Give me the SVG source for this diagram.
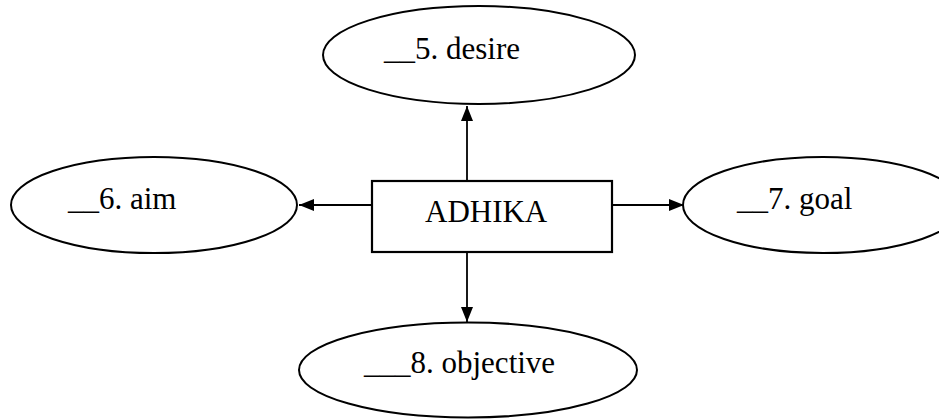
<svg xmlns="http://www.w3.org/2000/svg" width="939" height="419" viewBox="0 0 939 419">
<defs>
<style>
.shape{fill:#fff;stroke:#000;stroke-width:2}
.box{fill:#fff;stroke:#000;stroke-width:2.2}
.lbl{font-family:"Liberation Serif","Times New Roman",serif;font-size:31px;fill:#000}
.conn{stroke:#000;stroke-width:1.8;fill:none;marker-end:url(#arr)}
</style>
<marker id="arr" markerUnits="userSpaceOnUse" markerWidth="16" markerHeight="14" viewBox="0 0 16 14" refX="15" refY="7" orient="auto">
<path d="M0,1 L15,7 L0,13 Z" fill="#000"/>
</marker>
</defs>
<rect width="939" height="419" fill="#fff"/>
<g id="connectors">
<line class="conn" x1="467" y1="181" x2="467" y2="106"/>
<line class="conn" x1="372" y1="205" x2="299" y2="205"/>
<line class="conn" x1="612" y1="205" x2="684" y2="205"/>
<line class="conn" x1="467" y1="252" x2="467" y2="322"/>
</g>
<g id="center">
<rect class="box" x="372" y="181" width="240" height="71"/>
<text class="lbl" x="425" y="222">ADHIKA</text>
</g>
<g id="n5">
<ellipse class="shape" cx="479" cy="55" rx="156" ry="49"/>
<text class="lbl" x="384" y="59">__5. desire</text>
</g>
<g id="n6">
<ellipse class="shape" cx="154" cy="205" rx="143" ry="48"/>
<text class="lbl" x="68" y="209">__6. aim</text>
</g>
<g id="n7">
<ellipse class="shape" cx="823" cy="205" rx="140" ry="48"/>
<text class="lbl" x="737" y="209">__7. goal</text>
</g>
<g id="n8">
<ellipse class="shape" cx="468" cy="370" rx="169" ry="47.5"/>
<text class="lbl" x="364" y="373">___8. objective</text>
</g>
</svg>
